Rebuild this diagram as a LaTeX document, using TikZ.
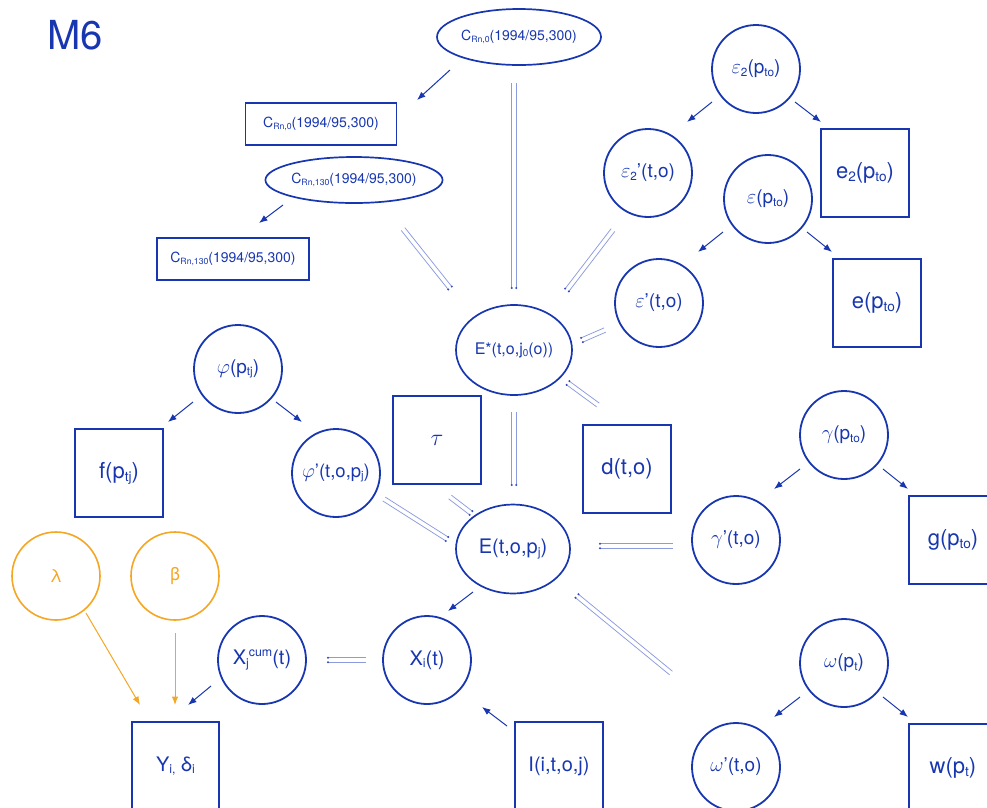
\RequirePackage{fix-cm}
\documentclass[tikz,border=0pt]{standalone}
\usepackage{fontspec}
\setmainfont{TeX Gyre Heros}
\usetikzlibrary{calc,shapes.geometric,arrows.meta}

\definecolor{ink}{HTML}{1736B0}
\definecolor{amber}{HTML}{F5A623}
\definecolor{eqcol}{HTML}{8C9BDE}
\definecolor{eqdotcol}{HTML}{3049C0}

% font size in pt (one unit of the picture is one pt)
\newcommand\setfs[1]{\fontsize{#1}{#1}\selectfont}
% small lowered / raised indices
\newcommand\lo[1]{\raisebox{-0.25ex}{\scalebox{0.62}{#1}}}
\newcommand\hi[1]{\raisebox{0.75ex}{\scalebox{0.62}{#1}}}
% italic Greek letter, slightly enlarged
\newcommand\gk[1]{\scalebox{1.08}{$#1$}}

% solid arrow between two points given relative to two nodes
\newcommand\arr[5][]{\draw[arrowline,#1] ($(#2)+#3$) -- ($(#4)+#5$);}
% double "equality" link, dots at the target end
\newcommand\eqlink[4]{%
  \path ($(#1)+#2$) coordinate (eqA) ($(#3)+#4$) coordinate (eqB);
  \draw[eqline] ($(eqA)!2.3pt!90:(eqB)$) -- ($(eqB)!2.3pt!-90:(eqA)$);
  \draw[eqline] ($(eqA)!2.3pt!-90:(eqB)$) -- ($(eqB)!2.3pt!90:(eqA)$);
  \fill[eqdotcol] ($(eqB)!2.3pt!-90:(eqA)$) circle (1.1pt)
                  ($(eqB)!2.3pt!90:(eqA)$) circle (1.1pt);
}

\tikzset{
  every node/.style={text=ink, inner sep=0pt},
  circ/.style={circle, draw=ink, line width=1.8pt, minimum size=88pt, font=\setfs{19}},
  amb/.style={circle, draw=amber, text=amber, line width=1.6pt, minimum size=88pt, font=\setfs{18}},
  box/.style={rectangle, draw=ink, line width=1.8pt, minimum width=88pt, minimum height=88pt, font=\setfs{22}},
  oval/.style={ellipse, draw=ink, line width=1.7pt},
  arrowline/.style={draw=ink, line width=1pt, -{Latex[length=8.5pt,width=6.5pt]}},
  eqline/.style={draw=eqcol, line width=0.75pt},
}

\begin{document}
\begin{tikzpicture}[x=1pt,y=-1pt]
\useasboundingbox (0,0) rectangle (987,807);

\node[font=\setfs{40}] (ttl) at (75,35) {M6};

% radon concentrations
\node[oval, minimum width=164pt, minimum height=56pt, font=\setfs{14}] (cA) at (519,37) {C\lo{Rn,0}(1994/95,300)};
\node[box, minimum width=151pt, minimum height=42pt, font=\setfs{14}] (rA) at (321,124) {C\lo{Rn,0}(1994/95,300)};
\node[oval, minimum width=164pt, minimum height=46pt, font=\setfs{14}] (cB) at (354,180) {C\lo{Rn,130}(1994/95,300)};
\node[box, minimum width=152pt, minimum height=42pt, font=\setfs{14}] (rB) at (233,259) {C\lo{Rn,130}(1994/95,300)};

% epsilon groups
\node[circ] (eps2) at (756,69) {\gk{\varepsilon}\lo{2}(p\lo{to})};
\node[circ] (eps2p) at (648,173) {\gk{\varepsilon}\lo{2}'(t,o)};
\node[box] (e2) at (865,173) {e\lo{2}(p\lo{to})};
\node[circ] (eps) at (768,199) {\gk{\varepsilon}(p\lo{to})};
\node[circ] (epsp) at (659,303) {\gk{\varepsilon}'(t,o)};
\node[box] (ebox) at (877,303) {e(p\lo{to})};

% exposures
\node[oval, minimum width=116pt, minimum height=90pt, font=\setfs{16}] (estar) at (514,350) {E*(t,o,j\lo{0}(o))};
\node[box] (tau) at (437,440) {\gk{\tau}};
\node[box] (dbox) at (627,469) {d(t,o)};
\node[oval, minimum width=114pt, minimum height=89pt, font=\setfs{20}] (E) at (513,549) {E(t,o,p\lo{j})};

% phi group
\node[circ] (phi) at (238,369) {\gk{\varphi}(p\lo{tj})};
\node[box] (fbox) at (119,473) {f(p\lo{tj})};
\node[circ, font=\setfs{18.5}] (phip) at (336,473) {\gk{\varphi}'(t,o,p\lo{j})};

% gamma group
\node[circ] (gam) at (844,435) {\gk{\gamma}(p\lo{to})};
\node[circ] (gamp) at (736,540) {\gk{\gamma}'(t,o)};
\node[box] (gbox) at (953,540) {g(p\lo{to})};

% omega group
\node[circ] (om) at (844,663) {\gk{\omega}(p\lo{t})};
\node[circ] (omp) at (736,767) {\gk{\omega}'(t,o)};
\node[box] (wbox) at (953,768) {w(p\lo{t})};

% risk model
\node[amb] (lam) at (56,576) {λ};
\node[amb] (bet) at (175,576) {β};
\node[circ, font=\setfs{20}] (xcum) at (262,660) {X\lo{j}\hi{cum}(t)};
\node[circ, font=\setfs{20}] (xi) at (427,660) {X\lo{i}(t)};
\node[box, minimum width=87pt, font=\setfs{20}] (ybox) at (175.5,766) {Y\lo{i,} δ\lo{i}};
\node[box, font=\setfs{20}] (ibox) at (559,766) {I(i,t,o,j)};

% solid arrows
\arr{cA}{(-69,33)}{rA}{(96,-24)}
\arr{cB}{(-71,25)}{rB}{(26,-36)}
\arr{eps2}{(-44,33)}{eps2p}{(39,-51)}
\arr{eps2}{(39,33)}{e2}{(-44,-51)}
\arr{eps}{(-45,33)}{epsp}{(39,-51)}
\arr{eps}{(39,33)}{ebox}{(-45,-51)}
\arr{phi}{(-45,33)}{fbox}{(49,-51)}
\arr{phi}{(38,33)}{phip}{(-34,-51)}
\arr{gam}{(-44,34)}{gamp}{(38,-51)}
\arr{gam}{(39,34)}{gbox}{(-45,-51)}
\arr{om}{(-44,34)}{omp}{(38,-50)}
\arr{om}{(39,34)}{wbox}{(-45,-51)}
\arr{E}{(-40,43)}{xi}{(21,-49)}
\arr{ibox}{(-52,-40)}{xi}{(55,47)}
\arr{xcum}{(-51,26)}{ybox}{(12.5,-61)}
\arr[draw=amber]{lam}{(30,37)}{ybox}{(-35.5,-61)}
\arr[draw=amber]{bet}{(0,57)}{ybox}{(-0.5,-61)}

% double links
\eqlink{cB}{(49,49)}{estar}{(-64,-62)}
\eqlink{cA}{(-5,46)}{estar}{(0,-62)}
\eqlink{eps2p}{(-35,57)}{estar}{(53,-60)}
\eqlink{epsp}{(-54,27)}{estar}{(68,-10)}
\eqlink{dbox}{(-29,-64)}{estar}{(54,33)}
\eqlink{estar}{(0,62)}{E}{(1,-64)}
\eqlink{tau}{(13,57)}{E}{(-42,-36)}
\eqlink{phip}{(48,26)}{E}{(-66,-10)}
\eqlink{gamp}{(-63,6)}{E}{(87,-3)}
\eqlink{omp}{(-65,-94)}{E}{(64,47)}
\eqlink{xi}{(-61,0)}{xcum}{(66,0)}

\end{tikzpicture}
\end{document}
